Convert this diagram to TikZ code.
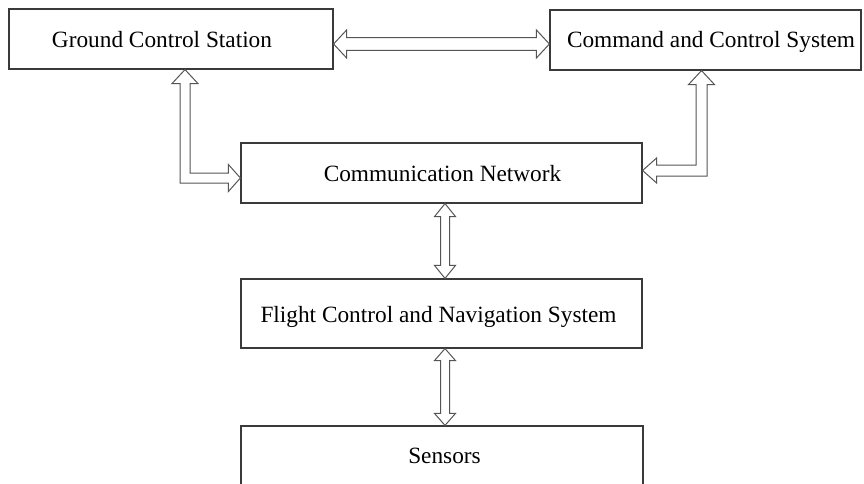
\documentclass[tikz,border=0pt]{standalone}
\usepackage{fontspec}
\setmainfont{Liberation Serif}
\usetikzlibrary{calc}
\definecolor{boxc}{HTML}{3A3A3A}
\definecolor{arrc}{HTML}{555555}
\tikzset{
  blk/.style={draw=boxc, line width=1.2pt, fill=white, inner sep=0pt},
  lbl/.style={font=\fontsize{23.3}{28}\selectfont, text=black, inner sep=0pt},
  darr/.style={draw=arrc, line width=1pt, fill=white, line join=miter},
}
% vertical double arrow: #1 top tip, #2 bottom tip, #3 shaft half width, #4 head half width, #5 head length
\newcommand\vdarrow[5]{%
  \path let \p1=(#1), \p2=(#2) in [darr]
   (\x1,\y1) -- (\x1+#4,\y1-#5) -- (\x1+#3,\y1-#5) -- (\x1+#3,\y2+#5) -- (\x1+#4,\y2+#5)
   -- (\x1,\y2) -- (\x1-#4,\y2+#5) -- (\x1-#3,\y2+#5) -- (\x1-#3,\y1-#5) -- (\x1-#4,\y1-#5) -- cycle;}
% horizontal double arrow: #1 left tip, #2 right tip
\newcommand\hdarrow[5]{%
  \path let \p1=(#1), \p2=(#2) in [darr]
   (\x1,\y1) -- (\x1+#5,\y1+#4) -- (\x1+#5,\y1+#3) -- (\x2-#5,\y1+#3) -- (\x2-#5,\y1+#4)
   -- (\x2,\y1) -- (\x2-#5,\y1-#4) -- (\x2-#5,\y1-#3) -- (\x1+#5,\y1-#3) -- (\x1+#5,\y1-#4) -- cycle;}
\begin{document}
\begin{tikzpicture}[x=1pt, y=-1pt]
\useasboundingbox[fill=white] (0,0) rectangle (864,484);

% boxes
\node[blk, minimum width=324pt, minimum height=60pt] (gcs) at (171,39) {};
\node[blk, minimum width=311pt, minimum height=60pt] (ccs) at (705.5,40) {};
\node[blk, minimum width=401pt, minimum height=60pt] (cn) at (441.5,173) {};
\node[blk, minimum width=401pt, minimum height=69pt] (fc) at (441.5,313.5) {};
\node[blk, minimum width=402pt, minimum height=58.6pt] (sen) at (442,455.3) {};

% labels
\node[lbl] (gcst) at ($(gcs.center)+(-9,1)$) {Ground Control Station};
\node[lbl] (ccst) at ($(ccs.center)+(5.5,1.5)$) {Command and Control System};
\node[lbl] (cnt) at ($(cn.center)+(1,0.5)$) {Communication Network};
\node[lbl] (fct) at ($(fc.center)+(-3,3.5)$) {Flight Control and Navigation System};
\node[lbl] (sent) at ($(sen.center)+(2.5,0.7)$) {Sensors};

% GCS <-> CCS
\hdarrow{$(gcs.east)+(0,5)$}{$(ccs.west)+(0,4)$}{6.3pt}{14pt}{13pt}

% CN <-> FC, FC <-> Sensors
\vdarrow{$(cn.south)+(3.5,0)$}{$(fc.north)+(3.5,0)$}{4.5pt}{10.5pt}{13pt}
\vdarrow{$(fc.south)+(3.5,0)$}{$(sen.north)+(3,0)$}{4.5pt}{10.5pt}{12pt}

% GCS <-> CN (elbow)
\path let \p1=($(gcs.south)+(14,0)$), \p2=($(cn.west)+(0,5)$) in [darr]
  (\x1,\y1) -- (\x1+13pt,\y1-14pt) -- (\x1+5pt,\y1-14pt) -- (\x1+5pt,\y2+5pt)
  -- (\x2-12pt,\y2+5pt) -- (\x2-12pt,\y2+13.5pt) -- (\x2,\y2) -- (\x2-12pt,\y2-13.5pt)
  -- (\x2-12pt,\y2-5pt) -- (\x1-5pt,\y2-5pt) -- (\x1-5pt,\y1-14pt) -- (\x1-13pt,\y1-14pt) -- cycle;

% CCS <-> CN (elbow)
\path let \p1=($(ccs.south)+(-4,0)$), \p2=($(cn.east)+(0,-2.5)$) in [darr]
  (\x1,\y1) -- (\x1+13pt,\y1-14pt) -- (\x1+5.5pt,\y1-14pt) -- (\x1+5.5pt,\y2-5.5pt)
  -- (\x2+14pt,\y2-5.5pt) -- (\x2+14pt,\y2-12.5pt) -- (\x2,\y2) -- (\x2+14pt,\y2+12.5pt)
  -- (\x2+14pt,\y2+5.5pt) -- (\x1-5.5pt,\y2+5.5pt) -- (\x1-5.5pt,\y1-14pt) -- (\x1-13pt,\y1-14pt) -- cycle;
\end{tikzpicture}
\end{document}
